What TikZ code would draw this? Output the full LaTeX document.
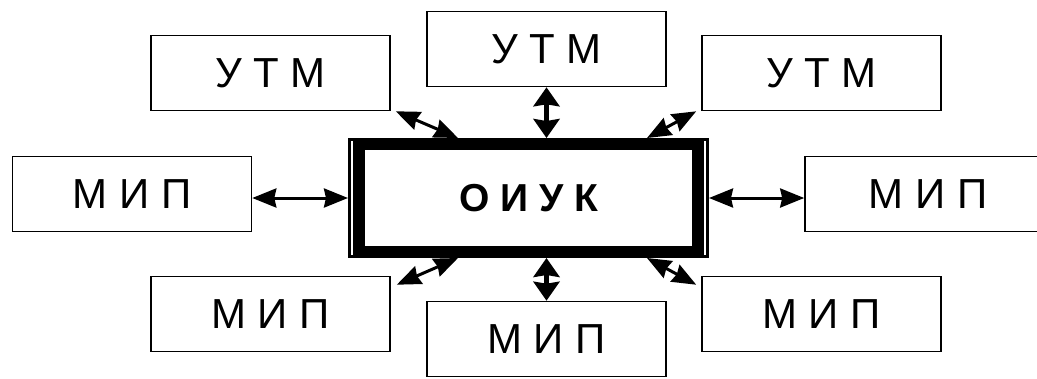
\documentclass[tikz,border=0pt]{standalone}
\usepackage{fontspec}
\setmainfont{Liberation Sans}
\usetikzlibrary{arrows.meta, positioning, calc}

\tikzset{
  unit/.style={draw, line width=1.6pt, minimum width=239pt, minimum height=75pt,
    inner sep=0pt, font=\fontsize{42}{50}\selectfont},
  link/.style={line width=3pt,
    {Stealth[length=24pt,width=19pt,inset=2pt]}-{Stealth[length=24pt,width=19pt,inset=2pt]}},
  vlink/.style={line width=5pt,
    {Stealth[length=19pt,width=26pt,inset=2pt]}-{Stealth[length=19pt,width=26pt,inset=2pt]}},
}

\begin{document}
\begin{tikzpicture}[x=1pt, y=-1pt]
  \useasboundingbox (0,0) rectangle (1037,378);
  % centre block with thick-thin frame
  \node[draw, line width=3pt, minimum width=358pt, minimum height=117pt] (oiukframe) at (528.5,198) {};
  \node[draw, line width=12pt, minimum width=338.5pt, minimum height=107.5pt,
    font=\fontsize{39}{46}\selectfont\bfseries] (oiuk) at (528.5,198) {О И У К};
  % upper row
  \node[unit] (utmL) at (270.5,73) {У Т М};
  \node[unit] (utmC) at (546.5,49) {У Т М};
  \node[unit] (utmR) at (821.5,73) {У Т М};
  % middle row
  \node[unit] (mipL) at (132,194) {М И П};
  \node[unit, minimum width=246pt] (mipR) at (928,194) {М И П};
  % lower row
  \node[unit] (mipBL) at (270.5,314) {М И П};
  \node[unit] (mipBC) at (546.5,339) {М И П};
  \node[unit] (mipBR) at (821.5,314) {М И П};
  % links
  \draw[link] (mipL.east |- oiukframe.west) -- (oiukframe.west);
  \draw[link] (oiukframe.east) -- (mipR.west |- oiukframe.east);
  \draw[vlink] (utmC.south) -- (utmC.south |- oiukframe.north);
  \draw[vlink] (mipBC.north |- oiukframe.south) -- (mipBC.north);
  \draw[link] ([xshift=110pt]oiukframe.north west) -- ([xshift=5pt]utmL.south east);
  \draw[link] ([xshift=-62pt]oiukframe.north east) -- ([xshift=-5pt]utmR.south west);
  \draw[link] ([xshift=110pt]oiukframe.south west) -- ([xshift=6pt,yshift=-9pt]mipBL.north east);
  \draw[link] ([xshift=-62pt]oiukframe.south east) -- ([xshift=-5pt,yshift=-9pt]mipBR.north west);
\end{tikzpicture}
\end{document}
